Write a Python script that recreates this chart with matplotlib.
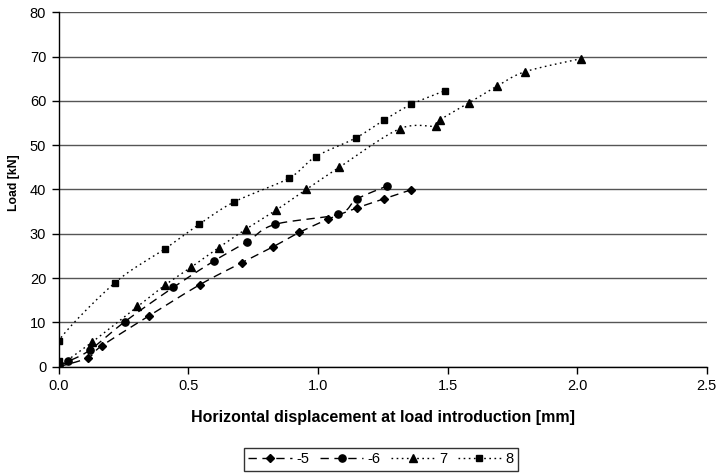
import numpy as np
import matplotlib
matplotlib.use("Agg")
import matplotlib.pyplot as plt
from matplotlib.lines import Line2D

plt.rcParams['font.family'] = ['Liberation Sans', 'DejaVu Sans']

# Data
x5 = [0.0, 0.112, 0.166, 0.349, 0.544, 0.707, 0.825, 0.928, 1.039, 1.149, 1.255, 1.358]
y5 = [0.0, 2.0, 4.7, 11.5, 18.5, 23.5, 27.0, 30.3, 33.3, 35.8, 37.9, 39.9]

x6 = [0.0, 0.037, 0.119, 0.256, 0.442, 0.600, 0.727, 0.833, 1.078, 1.149, 1.267]
y6 = [0.0, 1.2, 3.7, 10.2, 17.9, 23.9, 28.2, 32.1, 34.4, 37.8, 40.8]

x7 = [0.0, 0.128, 0.304, 0.412, 0.512, 0.618, 0.721, 0.840, 0.955, 1.082, 1.315,
      1.457, 1.471, 1.581, 1.690, 1.800, 2.013]
y7 = [0.0, 5.5, 13.6, 18.5, 22.5, 26.9, 31.0, 35.4, 40.0, 45.0, 53.7,
      54.3, 55.7, 59.5, 63.3, 66.6, 69.5]

x8 = [0.0, 0.0, 0.218, 0.410, 0.541, 0.677, 0.887, 0.991, 1.145, 1.253, 1.360, 1.490]
y8 = [1.4, 5.9, 19.0, 26.6, 32.1, 37.2, 42.5, 47.4, 51.6, 55.6, 59.2, 62.3]

labels = ['-5', '-6', '7', '8']
xticks = [0.0, 0.5, 1.0, 1.5, 2.0, 2.5]
yticks = [0, 10, 20, 30, 40, 50, 60, 70, 80]


def smooth(xs, ys, n=20):
    """Excel-like smoothed line (Catmull-Rom Bezier) through data points."""
    p = np.column_stack([xs, ys]).astype(float)
    m = len(p)
    out = [p[0]]
    for i in range(m - 1):
        p0 = p[i - 1] if i > 0 else p[i]
        p1 = p[i]
        p2 = p[i + 1]
        p3 = p[i + 2] if i + 2 < m else p[i + 1]
        c1 = p1 + (p2 - p0) / 6.0
        c2 = p2 - (p3 - p1) / 6.0
        t = np.linspace(0, 1, n + 1)[1:, None]
        seg = ((1 - t) ** 3) * p1 + 3 * ((1 - t) ** 2) * t * c1 + 3 * (1 - t) * t ** 2 * c2 + t ** 3 * p2
        out.extend(seg)
    out = np.array(out)
    return out[:, 0], out[:, 1]


fig = plt.figure(figsize=(7.19, 4.76), dpi=100)
ax = fig.add_axes([0.0816, 0.2296, 0.9014, 0.7446])

series = [
    (x5, y5, 'D', (0, (6, 4)), 4.3),
    (x6, y6, 'o', (0, (6, 4)), 5.2),
    (x7, y7, '^', (0, (1.2, 2.5)), 5.8),
    (x8, y8, 's', (0, (1.2, 2.5)), 5.0),
]
handles = []
for (xs, ys, mk, ls, ms), lab in zip(series, labels):
    sx, sy = smooth(xs, ys)
    ax.plot(sx, sy, color='black', lw=1.0, linestyle=ls, zorder=3)
    ax.plot(xs, ys, linestyle='none', marker=mk, color='black', ms=ms, zorder=4)
    handles.append(Line2D([], [], color='black', lw=1.0, linestyle=ls, marker=mk, ms=ms))

ax.set_xlim(0, 2.5)
ax.set_ylim(0, 80)
ax.set_xticks(xticks)
ax.set_xticklabels([f'{v:.1f}' for v in xticks])
ax.set_yticks(yticks)
ax.set_yticklabels([str(v) for v in yticks])
ax.yaxis.grid(True, color='#555555', lw=1.0)
ax.set_axisbelow(True)
for s in ['top', 'right']:
    ax.spines[s].set_visible(False)
for s in ['left', 'bottom']:
    ax.spines[s].set_linewidth(1.0)
ax.tick_params(axis='both', direction='out', length=5, width=1.0, labelsize=10.5, pad=4)

ax.set_xlabel('Horizontal displacement at load introduction [mm]', fontsize=11.5,
              fontweight='bold', labelpad=12)
ax.set_ylabel('Load [kN]', fontsize=8.8, fontweight='bold')
ax.yaxis.set_label_coords(-0.059, 0.52)

leg = fig.legend(handles, labels, loc='center', bbox_to_anchor=(0.53, 0.035), ncol=4,
                 frameon=True, fancybox=False, edgecolor='black', fontsize=10.5,
                 handlelength=3.0, handletextpad=0.3, columnspacing=0.7,
                 borderpad=0.3)
leg.get_frame().set_linewidth(1.0)

fig.savefig('out.png', dpi=100)
